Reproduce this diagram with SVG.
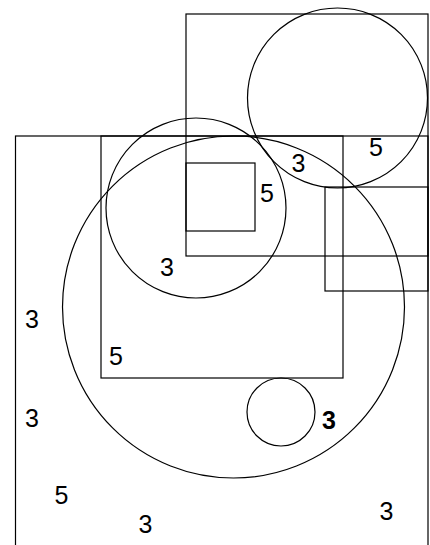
<svg xmlns="http://www.w3.org/2000/svg" width="430" height="545" viewBox="0 0 430 545">
<style>
.s{fill:none;stroke:#000;stroke-width:1.2}
.t{font-family:"Liberation Sans",Arial,sans-serif;font-size:25px;fill:#000;text-anchor:middle}
.b{font-weight:bold}
</style>
<rect width="430" height="545" fill="#fff"/>
<g id="shapes">
<g id="rect-outer"><rect class="s" x="15.5" y="136" width="412.5" height="420"/></g>
<g id="rect-top"><rect class="s" x="186" y="14" width="242" height="242"/></g>
<g id="rect-mid"><rect class="s" x="101" y="136" width="242" height="242"/></g>
<g id="rect-small"><rect class="s" x="186" y="163" width="69" height="68"/></g>
<g id="rect-right"><rect class="s" x="325" y="187" width="103" height="104"/></g>
<g id="circle-top"><circle class="s" cx="337.5" cy="98" r="90"/></g>
<g id="circle-mid"><circle class="s" cx="196" cy="208" r="90"/></g>
<g id="circle-big"><circle class="s" cx="233.5" cy="307" r="171"/></g>
<g id="circle-small"><circle class="s" cx="281" cy="412" r="34"/></g>
</g>
<g id="labels">
<text class="t" x="376" y="156">5</text>
<text class="t" x="298.5" y="172">3</text>
<text class="t" x="267" y="202">5</text>
<text class="t" x="167" y="276">3</text>
<text class="t" x="32" y="328">3</text>
<text class="t" x="116" y="365">5</text>
<text class="t" x="32" y="427">3</text>
<text class="t b" x="329" y="429">3</text>
<text class="t" x="61.5" y="504">5</text>
<text class="t" x="145.5" y="533">3</text>
<text class="t" x="386.5" y="520">3</text>
</g>
</svg>
